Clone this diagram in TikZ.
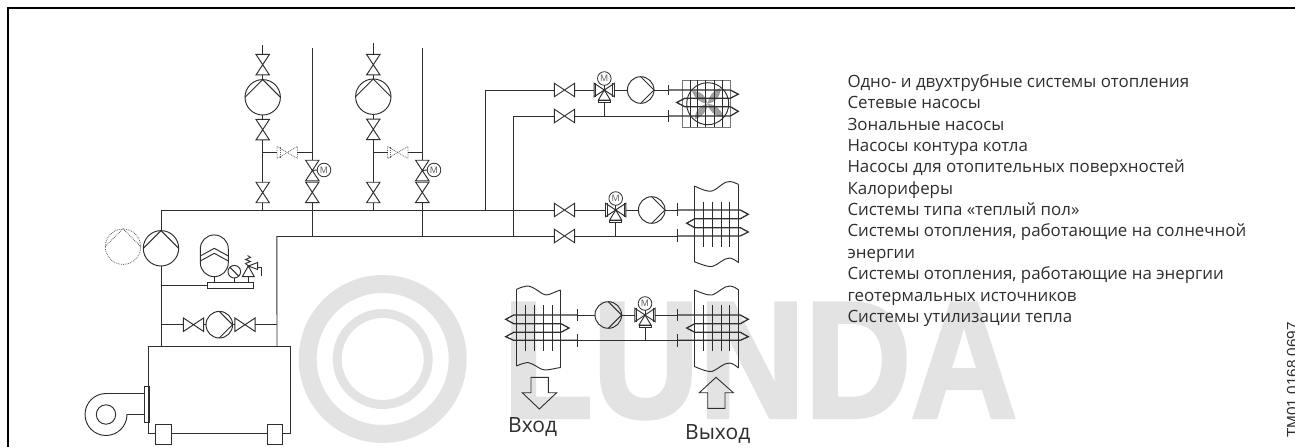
\documentclass[tikz,border=0pt]{standalone}
\usepackage{fontspec}
\setmainfont{Open Sans}
\newfontfamily\wmfont[FakeBold=2.5]{Liberation Sans Bold}
\newfontfamily\tmfont{Liberation Sans}
\definecolor{ink}{HTML}{2E2E2E}
\definecolor{wm}{HTML}{E3E3E3}
\tikzset{
  pipe/.style={draw=ink,line width=.95pt,line join=miter},
  tube/.style={draw=ink,line width=1.25pt,line join=miter},
  thin pipe/.style={draw=ink,line width=.9pt},
  vbox/.style={inner sep=0pt,outer sep=0pt,minimum width=#1,minimum height=20.5pt},
  hbox/.style={inner sep=0pt,outer sep=0pt,minimum width=20.4pt,minimum height=#1},
  pumpc/.style={circle,draw=ink,line width=.95pt,inner sep=0pt,outer sep=0pt,minimum size=#1},
  motor/.style={circle,draw=ink,line width=.8pt,inner sep=0pt,outer sep=0pt,minimum size=13.6pt,text=ink!80,font=\fontsize{9}{9}\selectfont},
  ghost/.style={draw=ink!75,line width=.8pt,densely dotted},
  tick/.style={draw=ink,line width=1.2pt},
  duct/.style={draw=ink,line width=.95pt},
  bigarrow/.style={draw=ink,line width=.9pt},
  mainlabel/.style={text=ink,inner sep=0pt,font=\fontsize{21}{21}\selectfont},
}
\newcommand\valveV[3]{\node[vbox=13.4pt] (#1) at (#2,#3) {};
  \draw[pipe] (#1.north west)--(#1.north east)--(#1.south west)--(#1.south east)--cycle;}
\newcommand\valveH[3]{\node[hbox=13.6pt] (#1) at (#2,#3) {};
  \draw[pipe] (#1.north west)--(#1.south west)--(#1.north east)--(#1.south east)--cycle;}
\newcommand\ghostV[3]{\node[hbox=12pt] (#1) at (#2,#3) {};
  \draw[ghost] (#1.north west)--(#1.south west)--(#1.north east)--(#1.south east)--cycle;
  \draw[ghost] ([xshift=3pt]#1.north west) -- ([xshift=3pt]#1.south west);}
\newcommand\pumpUp[4]{\node[pumpc=#4] (#1) at (#2,#3) {};
  \draw[pipe] (#1.west)--(#1.north)--(#1.east);}
\newcommand\pumpRight[3]{\node[pumpc=26.6pt] (#1) at (#2,#3) {};
  \draw[pipe] (#1.north)--(#1.east)--(#1.south);}
\newcommand\threeway[3]{\valveH{#1}{#2}{#3}
  \draw[thin pipe] ([xshift=1.8pt]#1.north west)--([xshift=1.8pt]#1.south west)
    ([xshift=-1.8pt]#1.north east)--([xshift=-1.8pt]#1.south east);
  \node[motor] (#1m) at (#2,#3-11.5) {M};
  \draw[thin pipe] (#1m.south)--(#1.center);
  \node[inner sep=0pt,outer sep=0pt,minimum width=12pt,minimum height=2.4pt,draw=ink,line width=.8pt] (#1b) at (#2,#3+11.2) {};
  \draw[pipe] (#1.center)--(#1b.north west)--(#1b.north east)--cycle;}
\begin{document}
\begin{tikzpicture}[x=1pt,y=-1pt]
\useasboundingbox (0,0) rectangle (1295,447);
% ---- watermark
\begin{scope}
\clip (0,0) rectangle (1295,447);
\fill[wm,even odd rule] (382.7,359) circle[radius=84] (382.7,359) circle[radius=66];
\fill[wm,even odd rule] (382.7,359) circle[radius=50] (382.7,359) circle[radius=41];
\end{scope}
\node[anchor=base west,text=wm,inner sep=0pt,xscale=.89] (logo) at (503,417) {\wmfont\fontsize{165}{165}\selectfont LUNDA};
% ---- frame
\draw[black,line width=2.2pt] (1295,8) -- (8,8) -- (8,447);
% ---- coordinates
\coordinate (c1top) at (262.7,45);
\coordinate (c2top) at (312.3,48);
\coordinate (c3top) at (373.3,43);
\coordinate (c4top) at (422.3,48);
\coordinate (h1) at (161,210);
\coordinate (h2) at (276.9,236);
\coordinate (r1) at (485.7,210);
\coordinate (r2) at (513,236);
\coordinate (j1) at (262.7,210);
\coordinate (j2) at (312.3,236);
\coordinate (j3) at (373.3,210);
\coordinate (j4) at (422.3,236);
\coordinate (t1) at (262.7,152.5);
\coordinate (t2) at (312.3,152.5);
\coordinate (t3) at (373.3,152.5);
\coordinate (t4) at (422.3,152.5);
\valveV{a1}{262.7}{64.7}
\pumpUp{pa}{262.7}{97.3}{35.4pt}
\valveV{a2}{262.7}{129.7}
\valveV{a3}{262.7}{192.5}
\draw[pipe] (c1top)--(a1.north) (a1.south)--(pa.north) (pa.south)--(a2.north) (a2.south)--(a3.north) (a3.south)--(j1);
\valveV{b1}{373.3}{64.7}
\pumpUp{pb}{373.3}{96.7}{35.4pt}
\valveV{b2}{373.3}{129.3}
\valveV{b3}{373.3}{192.5}
\draw[pipe] (c3top)--(b1.north) (b1.south)--(pb.north) (pb.south)--(b2.north) (b2.south)--(b3.north) (b3.south)--(j3);
\ghostV{ga}{287.2}{152.5}
\ghostV{gb}{397.7}{152.5}
\draw[pipe] (t1)--(ga.west) (ga.east)--(t2);
\draw[pipe] (t3)--(gb.west) (gb.east)--(t4);
% motorised return valves
\valveV{ca}{312.3}{170.5}
\valveV{cb}{312.3}{192.3}
\node[motor] (cam) at (324,170) {M};
\draw[thin pipe] (ca.center)--(cam.west);
\draw[pipe] (c2top)--(ca.north) (cb.south)--(j2);
\valveV{da}{422.3}{170.5}
\valveV{db}{422.3}{192.3}
\node[motor] (dam) at (434,170) {M};
\draw[thin pipe] (da.center)--(dam.west);
\draw[pipe] (c4top)--(da.north) (db.south)--(j4);
% headers
\valveH{v3}{564.5}{210}
\valveH{v4}{564.5}{236}
\valveH{v1}{564.5}{90}
\valveH{v2}{564.5}{116}
\draw[pipe] (h1)--(v3.west);
\draw[pipe] (h2)--(v4.west);
\draw[pipe] (r1)--(r1 |- v1.west)--(v1.west);
\draw[pipe] (r2)--(r2 |- v2.west)--(v2.west);
% ---- boiler side
\pumpUp{pm}{161}{248.3}{35.4pt}
\node[circle,inner sep=0pt,minimum size=35.4pt] (pg) at (123,246.7) {};
\draw[ghost] (pg.center) circle[radius=17.7];
\draw[ghost] (pg.west)--(pg.north)--(pg.east);
\draw[pipe] (h1)--(pm.north);
\node[draw=ink,line width=.95pt,inner sep=0pt,outer sep=0pt,minimum width=142.4pt,minimum height=86.6pt] (boiler) at (219.5,390) {};
\coordinate (bj1) at (161,346.7);
\coordinate (bj2) at (277,346.7);
\draw[pipe] (pm.south)--(bj1);
\draw[pipe] (h2)--(bj2);
% expansion vessel
\node[rectangle,rounded corners=13.9pt,draw=ink,line width=.95pt,inner sep=0pt,outer sep=0pt,minimum width=28pt,minimum height=41.7pt] (tank) at (214.3,255.8) {};
\draw[pipe] (tank.west |- 0,256)--(214.3,248.3)--(tank.east |- 0,256);
\draw[pipe] (tank.west |- 0,261)--(214.3,253.3)--(tank.east |- 0,261);
\node[draw=ink,line width=.95pt,inner sep=0pt,outer sep=0pt,minimum width=46.4pt,minimum height=6.7pt] (plate) at (230.5,285.6) {};
\draw[pipe] (tank.south)--(tank.south |- plate.north);
\coordinate (pt) at (161,285.6);
\draw[pipe] (pt)--(plate.west);
\node[pumpc=12.6pt] (gauge) at (234.3,271.7) {};
\draw[pipe] (gauge.north west)--(gauge.south east);
\draw[pipe] (gauge.south)--(gauge.south |- plate.north);
% safety valve
\coordinate (sv) at (248.3,266);
\draw[pipe] (sv)--(242.3,276.7)--(254.3,276.7)--cycle;
\draw[pipe] (248.3,276.7)--(248.3,282.3);
\draw[pipe] (sv)--(257.7,262.5)--(257.7,269.5)--cycle;
\draw[pipe] (257.7,267.5)--(261,267.5)--(261,276);
\draw[thin pipe] (248.3,266)--(245.5,263.5)--(250.5,261.5)--(245.5,259.5)--(250.5,257.5)--(247.5,255.5);
% boiler by-pass
\coordinate (bl) at (161,324.7);
\coordinate (br) at (277,324.7);
\valveH{bv1}{193.5}{324.7}
\pumpRight{bp}{219.3}{324.7}
\valveH{bv2}{245}{324.7}
\draw[pipe] (bl)--(bv1.west) (bv1.east)--(bp.west) (bp.east)--(bv2.west) (bv2.east)--(br);
% burner
\node[draw=ink,line width=.95pt,inner sep=0pt,outer sep=0pt,minimum width=5.4pt,minimum height=36.3pt] (burner) at (147,404.2) {};
\node[pumpc=19.4pt] (fan) at (106,414.5) {};
\draw[pipe] (burner.west |- 0,393.5)--(106,393.5) arc[start angle=270,end angle=0,radius=21]--(burner.west |- 0,414.5);
% feet
\node[draw=ink,fill=white,line width=.95pt,inner sep=0pt,outer sep=0pt,minimum width=15.7pt,minimum height=20pt] (f1) at (163.8,434) {};
\node[draw=ink,fill=white,line width=.95pt,inner sep=0pt,outer sep=0pt,minimum width=15pt,minimum height=20pt] (f2) at (275.2,434) {};
% ---- load 1: fan coil
\threeway{w1}{604.3}{90}
\pumpRight{q1}{640.7}{90}
\draw[pipe] (v1.east)--(w1.west) (w1.east)--(q1.west);
\coordinate (k1) at (668.3,90);
\coordinate (k2) at (668.3,116);
\draw[pipe] (q1.east)--(k1);
\draw[pipe] (v2.east)--(k2);
\draw[pipe] (w1b.south)--(w1b.south |- k2);
\draw[tick] (668.3,85)--(668.3,95) (668.3,110)--(668.3,122);
\foreach \aa in {45,135,225,315}{
  \fill[gray!75,rotate around={\aa:(707.7,103.7)}] (707.7,103.7) .. controls (713,99) and (721,98) .. (727.7,101.7) .. controls (722,108) and (713,108) .. (707.7,103.7);}
\draw[draw=ink!65,line width=1.4pt] (682.7,80.3) rectangle (730.7,127.3);
\foreach \xx in {690,697.7,705.7,714,722}{\draw[draw=ink,line width=.9pt] (\xx,80.3)--(\xx,127.3);}
\node[pumpc=42pt] (fanw) at (707.7,103.7) {};
\draw[tube] (k1)--(730.3,90)--(738.3,94.2)--(730.3,98.3)--(684.7,98.3)--(676.7,102.5)--(684.7,106.7)--(730.3,106.7)--(738.3,111.3)--(730.3,116)--(k2);
% ---- load 2: air heater
\threeway{w2}{615.7}{210}
\pumpRight{q2}{651.7}{210}
\coordinate (k3) at (677.3,210);
\coordinate (k4) at (677.3,236);
\draw[pipe] (v3.east)--(w2.west) (w2.east)--(q2.west) (q2.east)--(k3);
\draw[pipe] (v4.east)--(k4);
\draw[pipe] (w2b.south)--(w2b.south |- k4);
\draw[tick] (677.3,203)--(677.3,216) (677.3,229)--(677.3,242);
\draw[duct] (694.3,186) .. controls (703,190) and (708,192) .. (712,191) .. controls (720,188) and (723,181) .. (730,181.5) .. controls (734,182) and (736,183.5) .. (738.7,184.5);
\draw[duct] (694.3,261.7) .. controls (703,265) and (708,267) .. (712,266.5) .. controls (720,264) and (723,258) .. (730,258) .. controls (734,259) and (736,261) .. (738.7,262.5);
\draw[duct] (694.3,186)--(694.3,261.7) (738.7,184.5)--(738.7,262.5);
\foreach \xx in {703.3,712.3,721,729.7}{\draw[thin pipe] (\xx,201.7)--(\xx,246.7);}
\draw[tube] (k3)--(740.3,210)--(748.3,214.3)--(740.3,218.7)--(694.7,218.7)--(686.7,223.2)--(694.7,227.7)--(740.3,227.7)--(748.3,232)--(740.3,236)--(k4);
% ---- load 3: heat recovery
\pumpRight{q3}{608.3}{315}
\threeway{w3}{645}{315}
\coordinate (k5) at (577.7,315);
\coordinate (k6) at (677.3,315);
\coordinate (k7) at (577.7,340.3);
\coordinate (k8) at (677.3,340.3);
\coordinate (k9) at (645,340.3);
\draw[pipe] (k5)--(q3.west) (q3.east)--(w3.west) (w3.east)--(k6);
\draw[pipe] (k7)--(k8);
\draw[pipe] (w3b.south)--(k9);
\draw[tick] (577.7,309)--(577.7,321) (677.3,309)--(677.3,321) (577.7,334)--(577.7,347) (677.3,334)--(677.3,347);
\draw[duct] (516.3,289.5) .. controls (521,287) and (526,286) .. (528,286) .. controls (535,287) and (542,295) .. (546,295) .. controls (550,295) and (556,291) .. (560.7,290);
\draw[duct] (516.3,366) .. controls (521,364) and (526,362.5) .. (528,362.5) .. controls (535,364) and (540,370) .. (545,370) .. controls (550,370) and (556,368) .. (560.7,367.5);
\draw[duct] (516.3,289.5)--(516.3,366) (560.7,290)--(560.7,367.5);
\foreach \xx in {525.3,534.3,543,552}{\draw[thin pipe] (\xx,305)--(\xx,351);}
\draw[tube] (k5)--(513.7,315)--(505.7,319.3)--(513.7,323.7)--(561,323.7)--(569,328)--(561,332.3)--(513.7,332.3)--(505.7,336.7)--(513.7,340.3)--(k7);
\draw[duct] (694.3,290) .. controls (703,293.5) and (708,295.5) .. (712,295) .. controls (720,292) and (723,286) .. (730,286) .. controls (734,286.5) and (736,288) .. (738.7,290);
\draw[duct] (694.3,366.5) .. controls (703,370) and (708,372) .. (712,371.5) .. controls (720,368) and (723,363) .. (730,363) .. controls (734,364) and (736,366) .. (738.7,368);
\draw[duct] (694.3,290)--(694.3,366.5) (738.7,290)--(738.7,368);
\foreach \xx in {703.3,712.3,721,729.7}{\draw[thin pipe] (\xx,305)--(\xx,351);}
\draw[tube] (k6)--(740.3,315)--(748.3,319.3)--(740.3,323.7)--(694.7,323.7)--(686.7,328)--(694.7,332.3)--(740.3,332.3)--(748.3,336.7)--(740.3,340.3)--(k8);
% arrows
\draw[bigarrow] (531,377.3)--(548.3,377.3)--(548.3,392.7)--(556.7,392.7)--(539.3,409)--(522.3,392.7)--(531,392.7)--cycle;
\draw[bigarrow] (716,377.3)--(733.3,392.7)--(725,392.7)--(725,408.3)--(707.7,408.3)--(707.7,392.7)--(699.3,392.7)--cycle;
% ---- labels
\node[mainlabel,anchor=base west] (vh) at (508,432) {Вход};
\node[mainlabel,anchor=base west] (vyh) at (685,439) {Выход};
\node[anchor=north west,align=left,inner sep=0pt,text=ink,font=\fontsize{16.9}{21.36}\selectfont] (list) at (847.3,74.3) {Одно- и двухтрубные системы отопления\\
Сетевые насосы\\
Зональные насосы\\
Насосы контура котла\\
Насосы для отопительных поверхностей\\
Калориферы\\
Системы типа «теплый пол»\\
Системы отопления, работающие на солнечной\\
энергии\\
Системы отопления, работающие на энергии\\
геотермальных источников\\
Системы утилизации тепла};
\node[anchor=base west,rotate=90,inner sep=0pt,text=ink,font=\tmfont\fontsize{15.3}{16}\selectfont] (tm) at (1297.7,438) {TM01 0168 0697};
\end{tikzpicture}
\end{document}
